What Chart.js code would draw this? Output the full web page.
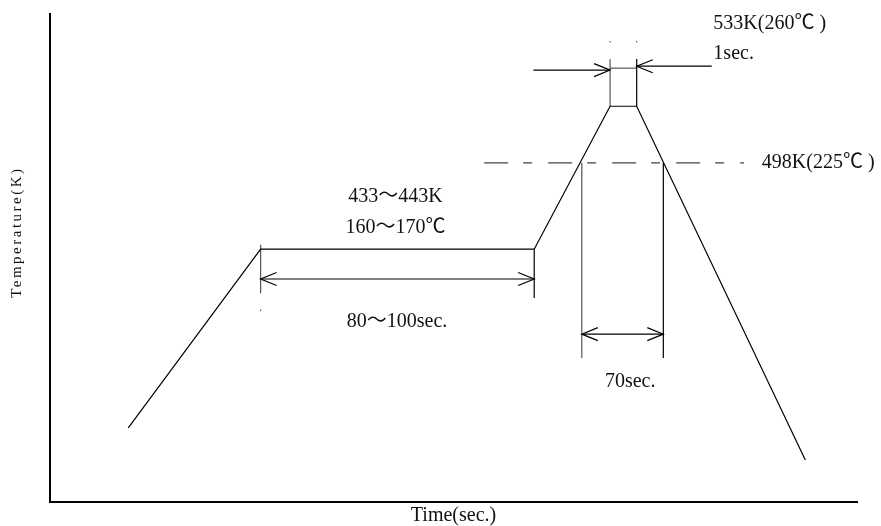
<!DOCTYPE html>
<html>
<head>
<meta charset="utf-8">
<script src="https://cdn.jsdelivr.net/npm/chart.js@4.4.0/dist/chart.umd.min.js"></script>
<style>
  html, body { margin: 0; padding: 0; background: #fff; }
  #wrap { width: 881px; height: 526px; }
</style>
</head>
<body>
<div id="wrap"><canvas id="reflowChart"></canvas></div>
<script>
// schematic reflow profile, both axes in arbitrary units 0..100
const profileTime = [9.7, 26.1, 60.0, 69.4, 72.7, 93.6]
const profileTemp = [15.2, 51.8, 51.8, 81.1, 81.1, 8.6]

const soakLevel = 51.8      // 433~443K plateau
const liquidusLevel = 69.5  // 498K dashed line
const peakLevel = 81.1      // 533K peak
const peakStart = 69.4
const peakEnd = 72.7
const reflowStart = 65.9
const reflowEnd = 76.0
const soakStart = 26.1
const soakEnd = 60.0

const labelTexts = ["433～443K", "160～170℃", "80～100sec.", "70sec.", "533K(260℃ )", "1sec.", "498K(225℃ )"]

// where annotations sit (data units)
const notes = [
  { x: 42.8, y: 62.5, align: "center" },
  { x: 42.8, y: 56.1, align: "center" },
  { x: 43.0, y: 36.9, align: "center" },
  { x: 71.9, y: 24.6, align: "center" },
  { x: 82.2, y: 98.0, align: "left" },
  { x: 82.2, y: 91.8, align: "left" },
  { x: 88.2, y: 69.5, align: "left" },
]

const pts = (xs, ys) => xs.map((x, i) => ({ x: x, y: ys[i] }))

const seg = (data, extra) => Object.assign({
  data: data,
  showLine: true,
  pointRadius: 0,
  borderColor: "#000",
  borderWidth: 1.2,
  fill: false,
}, extra || {})

const datasets = [
  seg(pts(profileTime, profileTemp)),
  // 498K dashed level
  seg(pts([53.8, 86.0], [liquidusLevel, liquidusLevel]), { borderColor: "#444", borderDash: [24, 15, 9, 16] }),
  // peak box
  seg(pts([peakStart, peakStart], [peakLevel, 90.8]), { borderColor: "#555" }),
  seg(pts([peakEnd, peakEnd], [peakLevel, 90.8])),
  seg(pts([peakStart, peakEnd], [88.9, 88.9]), { borderColor: "#555" }),
  seg(pts([59.9, peakStart], [88.5, 88.5]), { arrow: "end" }),
  seg(pts([82.0, peakEnd], [89.3, 89.3]), { arrow: "end" }),
  // 70 sec window
  seg(pts([reflowStart, reflowStart], [liquidusLevel, 29.5]), { borderColor: "#555" }),
  seg(pts([reflowEnd, reflowEnd], [liquidusLevel, 29.5])),
  seg(pts([reflowStart, reflowEnd], [34.4, 34.4]), { arrow: "both" }),
  // 80~100 sec soak
  seg(pts([soakStart, soakStart], [52.7, 42.8]), { borderColor: "#555" }),
  seg(pts([soakEnd, soakEnd], [soakLevel, 41.8])),
  seg(pts([soakStart, soakEnd], [45.7, 45.7]), { arrow: "both" }),
  // little tick marks
  { data: pts([soakStart, peakStart, peakEnd], [39.3, 94.3, 94.3]), pointRadius: 0.7, pointBackgroundColor: "#444", pointBorderWidth: 0, showLine: false },
]

function head(ctx, tipX, tipY, dir) {
  ctx.beginPath()
  ctx.moveTo(tipX - dir * 16, tipY - 6.5)
  ctx.lineTo(tipX, tipY)
  ctx.lineTo(tipX - dir * 16, tipY + 6.5)
  ctx.stroke()
}

const annotate = {
  id: "annotate",
  afterDatasetsDraw(chart) {
    const ctx = chart.ctx
    const sx = chart.scales.x, sy = chart.scales.y
    ctx.save()
    ctx.strokeStyle = "#000"
    ctx.lineWidth = 1.2
    chart.data.datasets.forEach((ds, i) => {
      if (!ds.arrow) return
      const els = chart.getDatasetMeta(i).data
      const a = els[0], b = els[els.length - 1]
      const dir = b.x > a.x ? 1 : -1
      head(ctx, b.x, b.y, dir)
      if (ds.arrow === "both") head(ctx, a.x, a.y, -dir)
    })

    ctx.fillStyle = "#111"
    ctx.font = "20px 'Liberation Serif', 'Noto Sans CJK SC', serif"
    ctx.textBaseline = "middle"
    labelTexts.forEach((t, i) => {
      ctx.textAlign = notes[i].align
      ctx.fillText(t, sx.getPixelForValue(notes[i].x), sy.getPixelForValue(notes[i].y))
    })

    // axis titles
    const area = chart.chartArea
    ctx.font = "20px 'Liberation Serif', serif"
    ctx.textAlign = "center"
    ctx.fillText("Time(sec.)", (area.left + area.right) / 2, area.bottom + 14)

    ctx.translate(17, sy.getPixelForValue(55.3))
    ctx.rotate(-Math.PI / 2)
    ctx.font = "15px 'Liberation Serif', serif"
    ctx.letterSpacing = "2.5px"
    ctx.fillText("Temperature(K)", 0, 0)
    ctx.restore()
  },
}

const axis = {
  type: "linear",
  min: 0,
  max: 100,
  ticks: { display: false },
  grid: { display: false, drawTicks: false },
  border: { display: true, color: "#000", width: 2 },
}

new Chart(document.getElementById("reflowChart"), {
  type: "scatter",
  data: { datasets: datasets },
  options: {
    responsive: true,
    maintainAspectRatio: false,
    animation: false,
    layout: { padding: { left: 50, right: 24, top: 14, bottom: 24 } },
    plugins: { legend: { display: false }, tooltip: { enabled: false } },
    scales: { x: axis, y: axis },
  },
  plugins: [annotate],
})
</script>
</body>
</html>
